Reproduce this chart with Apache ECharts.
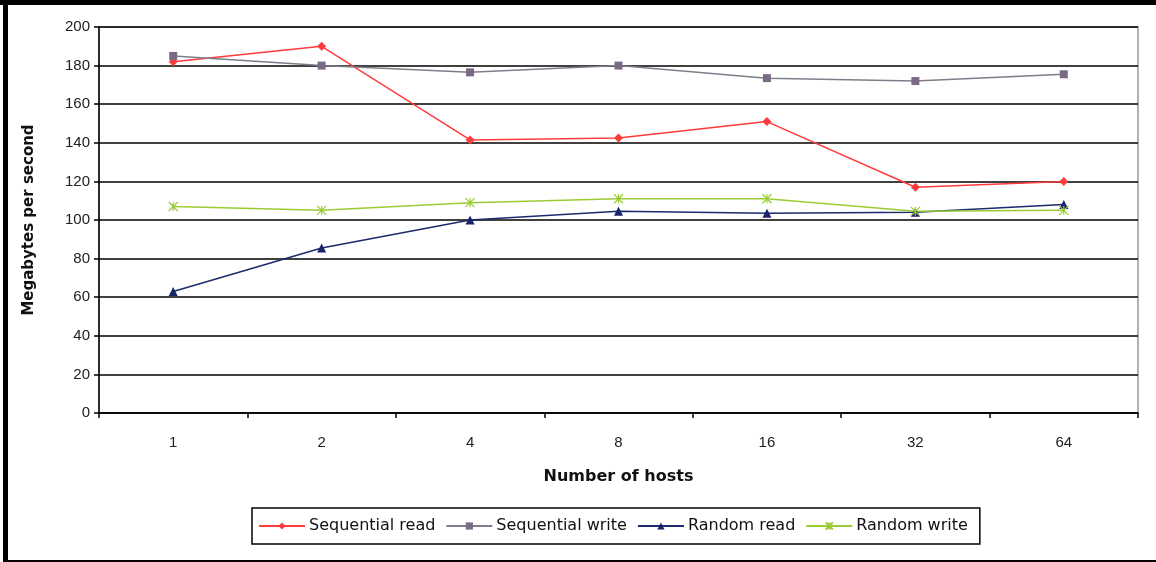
<!DOCTYPE html>
<html>
<head>
<meta charset="utf-8">
<script src="https://cdn.jsdelivr.net/npm/echarts@6/dist/echarts.min.js"></script>
<style>
html,body{margin:0;padding:0;background:#fff;}
#chart{width:1156px;height:562px;}
</style>
</head>
<body>
<div id="chart"></div>
<script>
var categories = ['1', '2', '4', '8', '16', '32', '64'];
var seqRead = [182, 190, 141.5, 142.5, 151, 117, 120];
var seqWrite = [185, 180, 176.5, 180, 173.5, 172, 175.5];
var randRead = [63, 85.5, 100, 104.5, 103.5, 104, 108];
var randWrite = [107, 105, 109, 111, 111, 104.5, 105];
var seriesNames = ['Sequential read', 'Sequential write', 'Random read', 'Random write'];

var FONT = '"Liberation Sans", Arial, sans-serif';
var WIDE = '"DejaVu Sans", sans-serif';
var xSymbol = 'path://M0,0 L10,10 M10,0 L0,10 M5,0 L5,10';

var chart = echarts.init(document.getElementById('chart'), null, {renderer: 'canvas'});
chart.setOption({
  backgroundColor: '#ffffff',
  animation: false,
  textStyle: {fontFamily: FONT},
  graphic: [
    {type: 'rect', shape: {x: 0, y: 0, width: 1156, height: 5}, style: {fill: '#000'}},
    {type: 'rect', shape: {x: 3, y: 0, width: 5, height: 562}, style: {fill: '#000'}},
    {type: 'rect', shape: {x: 3, y: 560, width: 1153, height: 2}, style: {fill: '#000'}}
  ],
  grid: {
    left: 99, right: 18, top: 27, bottom: 149,
    show: true, borderColor: '#999', borderWidth: 1.5, backgroundColor: 'transparent'
  },
  legend: {
    data: seriesNames,
    left: 252, top: 508,
    orient: 'horizontal',
    borderColor: '#000', borderWidth: 1.5,
    padding: [10, 12, 10, 6],
    itemWidth: 46, itemHeight: 9, itemGap: 10,
    textStyle: {fontFamily: WIDE, fontSize: 16, color: '#111', padding: [0, 0, 0, -1]}
  },
  xAxis: {
    type: 'category',
    data: categories,
    boundaryGap: true,
    name: 'Number of hosts',
    nameLocation: 'middle',
    nameGap: 56,
    nameTextStyle: {fontFamily: WIDE, fontSize: 16, fontWeight: 'bold', color: '#111'},
    axisLine: {show: true, lineStyle: {color: '#000', width: 1.5}},
    axisTick: {show: true, length: 5, alignWithLabel: false, lineStyle: {color: '#000', width: 1.5}},
    axisLabel: {fontFamily: FONT, fontSize: 15, color: '#222', margin: 22},
    splitLine: {show: false}
  },
  yAxis: {
    type: 'value',
    min: 0, max: 200, interval: 20,
    name: 'Megabytes per second',
    nameLocation: 'middle',
    nameGap: 62,
    nameTextStyle: {fontFamily: WIDE, fontSize: 15, fontWeight: 'bold', color: '#111'},
    axisLine: {show: true, lineStyle: {color: '#000', width: 1.5}},
    axisTick: {show: true, inside: false, length: 5, lineStyle: {color: '#000', width: 1.5}},
    axisLabel: {fontFamily: FONT, fontSize: 15, color: '#222', margin: 9},
    splitLine: {show: true, lineStyle: {color: '#000', width: 1.5}}
  },
  series: [
    {
      name: seriesNames[0], type: 'line', data: seqRead,
      symbol: 'diamond', symbolSize: 9, showAllSymbol: true,
      lineStyle: {color: '#ff3b3b', width: 1.5},
      itemStyle: {color: '#ff3b3b'}
    },
    {
      name: seriesNames[1], type: 'line', data: seqWrite,
      symbol: 'rect', symbolSize: 8, showAllSymbol: true,
      lineStyle: {color: '#7e7e8a', width: 1.5},
      itemStyle: {color: '#7a6a88'}
    },
    {
      name: seriesNames[2], type: 'line', data: randRead,
      symbol: 'triangle', symbolSize: 9, showAllSymbol: true,
      lineStyle: {color: '#1c2a6e', width: 1.5},
      itemStyle: {color: '#17236a'}
    },
    {
      name: seriesNames[3], type: 'line', data: randWrite,
      symbol: xSymbol, symbolSize: 9, showAllSymbol: true,
      lineStyle: {color: '#99cc33', width: 1.5},
      itemStyle: {color: '#99cc33', borderColor: '#99cc33', borderWidth: 1.2}
    }
  ]
});
</script>
</body>
</html>
